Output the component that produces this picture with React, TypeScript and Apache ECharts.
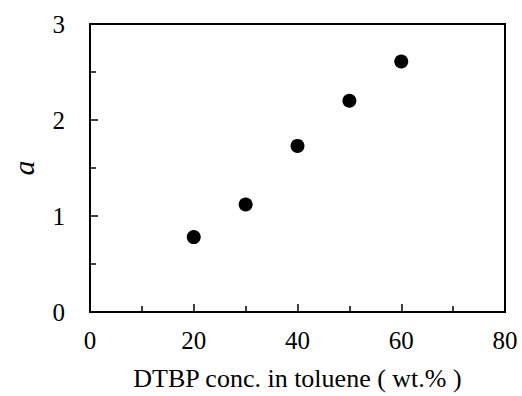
import React, { useEffect, useRef } from "react";
import * as echarts from "echarts";

const concentrations = [20, 30, 40, 50, 60];
const aValues = [0.78, 1.12, 1.73, 2.2, 2.61];
const xTitle = "DTBP conc. in toluene ( wt.% )";
const yTitle = "a";

export default function App() {
  const ref = useRef<HTMLDivElement>(null);
  useEffect(() => {
    if (!ref.current) return;
    const chart = echarts.init(ref.current, null, { renderer: "svg" });
    const font = "Liberation Serif, DejaVu Serif";
    chart.setOption({
      animation: false,
      backgroundColor: "#fff",
      textStyle: { fontFamily: font },
      grid: {
        left: 83,
        right: 17,
        top: 24,
        bottom: 79,
        show: true,
        borderColor: "#000",
        borderWidth: 2,
        backgroundColor: "transparent",
      },
      xAxis: {
        type: "value",
        min: 0,
        max: 80,
        interval: 20,
        name: xTitle,
        nameLocation: "middle",
        nameGap: 53,
        nameTextStyle: { fontFamily: font, fontSize: 26, color: "#000" },
        axisLine: { show: true, lineStyle: { color: "#000", width: 2 } },
        axisTick: { show: true, inside: true, length: 8, lineStyle: { color: "#000", width: 1.5 } },
        minorTick: { show: true, splitNumber: 2, length: 6, lineStyle: { color: "#000", width: 1.5 } },
        splitLine: { show: false },
        axisLabel: { margin: 16, fontFamily: font, fontSize: 25, color: "#000" },
      },
      yAxis: {
        type: "value",
        min: 0,
        max: 3,
        interval: 1,
        name: yTitle,
        nameLocation: "middle",
        nameGap: 52,
        nameTextStyle: { fontFamily: font, fontSize: 30, fontStyle: "italic", color: "#000" },
        axisLine: { show: true, lineStyle: { color: "#000", width: 2 } },
        axisTick: { show: true, inside: true, length: 8, lineStyle: { color: "#000", width: 1.5 } },
        minorTick: { show: true, splitNumber: 2, length: 6, lineStyle: { color: "#000", width: 1.5 } },
        splitLine: { show: false },
        axisLabel: { margin: 25, fontFamily: font, fontSize: 25, color: "#000" },
      },
      series: [
        {
          type: "scatter",
          data: concentrations.map((c, i) => [c, aValues[i]]),
          symbol: "circle",
          symbolSize: 14,
          itemStyle: { color: "#000", opacity: 1 },
        },
      ],
    });
    return () => chart.dispose();
  }, []);
  return (
    <div
      ref={ref}
      style={{ position: "fixed", left: 0, top: 0, width: 522, height: 396 }}
    />
  );
}
